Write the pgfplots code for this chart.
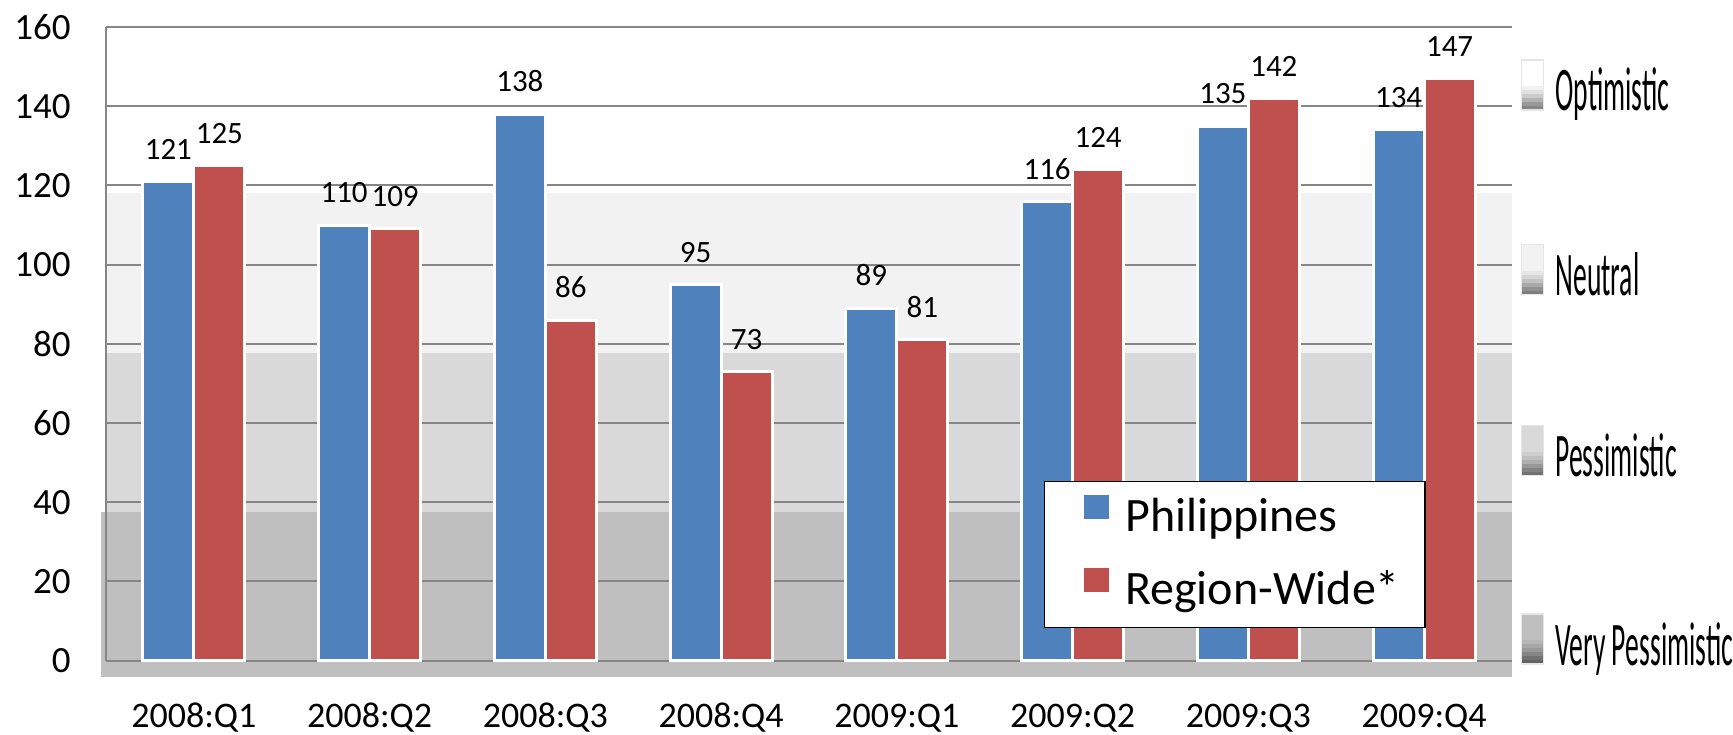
\documentclass[border=0pt]{standalone}
\usepackage{pgfplots}
\pgfplotsset{compat=1.18}
\usepackage{fontspec}
\setmainfont{Carlito}
\newfontfamily\narrowfont[FakeStretch=0.445]{Carlito}

\definecolor{phil}{HTML}{4F81BD}
\definecolor{region}{HTML}{C0504D}
\definecolor{gridgray}{HTML}{868686}
\definecolor{bandA}{HTML}{BFBFBF}
\definecolor{bandB}{HTML}{D9D9D9}
\definecolor{bandC}{HTML}{F2F2F2}

% small key box beside a band label: band colour fading to grey at the bottom
\newcommand\keybox[2]{%
  \fill[#2] (axis cs:8.555,#1) ++(0pt,0.5pt) rectangle ++(11pt,25pt);
  \fill[#2!95!black] (axis cs:8.555,#1) ++(0pt,0.5pt) rectangle ++(11pt,12pt);
  \fill[#2!88!black] (axis cs:8.555,#1) ++(0pt,0.5pt) rectangle ++(11pt,10pt);
  \fill[#2!80!black] (axis cs:8.555,#1) ++(0pt,0.5pt) rectangle ++(11pt,8pt);
  \fill[#2!70!black] (axis cs:8.555,#1) ++(0pt,0.5pt) rectangle ++(11pt,6pt);
  \fill[#2!60!black] (axis cs:8.555,#1) ++(0pt,0.5pt) rectangle ++(11pt,4pt);
  \fill[#2!52!black] (axis cs:8.555,#1) ++(0pt,0.5pt) rectangle ++(11pt,2pt);
  \draw[black!10, line width=0.6pt] (axis cs:8.555,#1) ++(0pt,0.5pt) rectangle ++(11pt,25pt);
}

\begin{document}
\begin{tikzpicture}
\begin{axis}[
    set layers,
    scale only axis,
    width=703pt, height=316.85pt,
    xmin=0.5, xmax=8.5,
    ymin=0, ymax=160,
    clip=false,
    ybar=0pt,
    bar width=25.5pt,
    axis lines*=left,
    axis line style={draw=gridgray, line width=1pt},
    ymajorgrids,
    grid style={draw=gridgray, line width=1pt},
    major tick length=0pt,
    ytick={0,20,...,160},
    xtick={1,...,8},
    xticklabels={2008:Q1,2008:Q2,2008:Q3,2008:Q4,2009:Q1,2009:Q2,2009:Q3,2009:Q4},
    /pgf/number format/assume math mode=true,
    yticklabel style={font=\fontsize{18.5}{18.5}\selectfont, anchor=east, inner sep=0pt, xshift=-17.5pt},
    xticklabel style={font=\fontsize{18}{18}\selectfont, anchor=base, inner sep=0pt, yshift=-33.3pt},
    nodes near coords,
    every node near coord/.append style={font=\fontsize{15.5}{15.5}\selectfont, text=black, anchor=south, inner sep=0pt, yshift=10.25pt},
    legend style={
        at={(rel axis cs:0.6671,0.2836)}, anchor=north west,
        draw=black, line width=0.75pt, fill=white,
        font=\fontsize{24}{24}\selectfont,
        inner xsep=12.5pt, inner ysep=6.8pt,
        row sep=13.35pt, column sep=8pt,
        nodes={inner sep=0pt, text height=17pt, text depth=5pt},
    },
    legend cell align=left,
    legend image code/.code={\path (-6.5pt,-2pt); \fill[#1,draw=none] (0pt,0pt) rectangle (12.5pt,12pt);},
]

% shaded sentiment bands and the floor
\begin{pgfonlayer}{axis background}
\fill[bandA] ([xshift=-2.5pt,yshift=-8.15pt]axis cs:0.5,0) rectangle (axis cs:8.5,37.5);
\fill[bandB] (axis cs:0.5,37.5) rectangle (axis cs:8.5,77.75);
\fill[bandC] (axis cs:0.5,77.75) rectangle (axis cs:8.5,118);
\end{pgfonlayer}

\addplot[fill=phil, draw=white, line width=1.5pt] coordinates {
    (1,121) (2,110) (3,138) (4,95) (5,89) (6,116) (7,135) (8,134)
};
\addlegendentry{Philippines}

\addplot[fill=region, draw=white, line width=1.5pt] coordinates {
    (1,125) (2,109) (3,86) (4,73) (5,81) (6,124) (7,142) (8,147)
};
\addlegendentry{Region-Wide*}

% band key on the right
\keybox{138.8}{white}
\node[anchor=base west, inner sep=0pt, font=\narrowfont\fontsize{31}{31}\selectfont] at (axis cs:8.745,138.8) {Optimistic};
\keybox{92.2}{bandC}
\node[anchor=base west, inner sep=0pt, font=\narrowfont\fontsize{31}{31}\selectfont] at (axis cs:8.745,92.2) {Neutral};
\keybox{46.5}{bandB}
\node[anchor=base west, inner sep=0pt, font=\narrowfont\fontsize{31}{31}\selectfont] at (axis cs:8.745,46.5) {Pessimistic};
\keybox{-1.1}{bandA}
\node[anchor=base west, inner sep=0pt, font=\narrowfont\fontsize{31}{31}\selectfont] at (axis cs:8.745,-1.1) {Very Pessimistic};
\end{axis}
\pgfresetboundingbox
\useasboundingbox (-53pt,-36.65pt) rectangle (813.5pt,330.35pt);
\end{tikzpicture}
\end{document}
